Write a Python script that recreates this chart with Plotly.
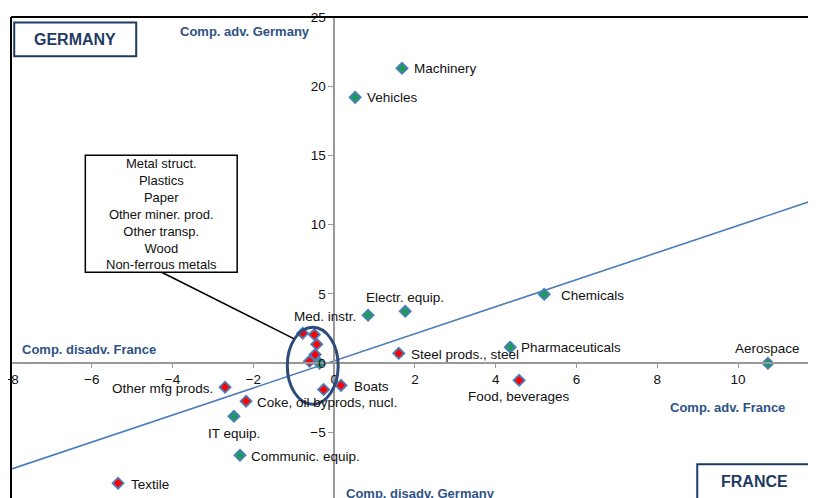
import plotly.graph_objects as go

# -- sector data: comparative advantage France (x) vs Germany (y)
sectors = ['Machinery', 'Vehicles', 'Electr. equip.', 'Med. instr.', 'Chemicals',
           'Pharmaceuticals', 'Aerospace', 'Steel prods., steel', 'Food, beverages',
           'Boats', 'Other mfg prods.', 'Coke, oil byprods, nucl.', 'IT equip.',
           'Communic. equip.', 'Textile',
           'Metal struct.', 'Plastics', 'Paper', 'Other miner. prod.', 'Wood',
           'Other transp.', 'Non-ferrous metals']
adv_france = [1.68, 0.52, 1.76, 0.84, 5.2, 4.36, 10.74, 1.6, 4.58, 0.17, -2.7, -2.18,
              -2.48, -2.33, -5.35, -0.78, -0.49, -0.43, -0.47, -0.61, -0.36, -0.26]
adv_germany = [21.3, 19.2, 3.75, 3.47, 4.98, 1.16, 0.0, 0.72, -1.23, -1.6, -1.73, -2.74,
               -3.83, -6.64, -8.66, 2.17, 2.07, 1.37, 0.63, 0.14, 0.0, -1.9]
kind = ['g', 'g', 'g', 'g', 'g', 'g', 'g', 'r', 'r', 'r', 'r', 'r', 'g', 'g', 'r',
        'r', 'r', 'r', 'r', 'r', 'g', 'r']
cluster = ['Metal struct.', 'Plastics', 'Paper', 'Other miner. prod.', 'Other transp.',
           'Wood', 'Non-ferrous metals']

# regression line
trend_x = [-8, 12]
trend_y = [-7.65, 11.9]

x_ticks = [-8, -6, -4, -2, 0, 2, 4, 6, 8, 10, 12]
y_ticks = [-10, -5, 0, 5, 10, 15, 20, 25]

# label offsets (px) and anchor, for the labelled points
lbl = {
    'Machinery': (10, 0, 'left'), 'Vehicles': (10, 0, 'left'),
    'Electr. equip.': (0, 14, 'center'), 'Med. instr.': (-10, -1, 'right'),
    'Chemicals': (15, -1, 'left'), 'Pharmaceuticals': (9, 0, 'left'),
    'Aerospace': (0, 15, 'center'), 'Steel prods., steel': (10, -1, 'left'),
    'Food, beverages': (0, -16, 'center'), 'Boats': (11, -1, 'left'),
    'Other mfg prods.': (-10, -1, 'right'), 'Coke, oil byprods, nucl.': (9, -1, 'left'),
    'IT equip.': (0, -17, 'center'), 'Communic. equip.': (9, -1, 'left'),
    'Textile': (11, -1, 'left'),
}

FONT = 'Liberation Sans, Arial, sans-serif'
NAVY = '#2f5286'
BLUE = '#4a7ebb'
x_range = [-8, 11.93]
y_range = [-9.73, 25]

fig = go.Figure()

fig.add_trace(go.Scatter(x=trend_x, y=trend_y, mode='lines',
                         line=dict(color=BLUE, width=1.6), hoverinfo='skip'))

fig.add_trace(go.Scatter(
    x=adv_france, y=adv_germany, mode='markers', text=sectors,
    marker=dict(symbol='diamond', size=8.5,
                color=['#1e9b58' if k == 'g' else '#ff0000' for k in kind],
                line=dict(color=BLUE, width=1.8))))

for name, xv, yv in zip(sectors, adv_france, adv_germany):
    if name not in lbl:
        continue
    dx, dy, anc = lbl[name]
    fig.add_annotation(x=xv, y=yv, text=name, showarrow=False, xanchor=anc,
                       xshift=dx, yshift=dy, font=dict(size=13.5, color='#111'))

# quadrant captions
quad = [('Comp. adv. Germany', -2.2, 23.97, 'center'),
        ('Comp. disadv. France', -7.77, 1.01, 'left'),
        ('Comp. adv. France', 9.75, -3.18, 'center'),
        ('Comp. disadv. Germany', 2.15, -9.39, 'center')]
for t, xv, yv, anc in quad:
    fig.add_annotation(x=xv, y=yv, text='<b>' + t + '</b>', showarrow=False,
                       xanchor=anc, font=dict(size=13, color=NAVY))

# country boxes
fig.add_shape(type='rect', x0=-7.92, x1=-4.9, y0=22.17, y1=24.6,
              line=dict(color='#1f3b63', width=2), fillcolor='white')
fig.add_annotation(x=-6.41, y=23.38, text='<b>GERMANY</b>', showarrow=False,
                   font=dict(size=16, color='#1f3b63'))
fig.add_shape(type='rect', x0=8.99, x1=12.5, y0=-11, y1=-7.29,
              line=dict(color='#1f3b63', width=2), fillcolor='white')
fig.add_annotation(x=10.4, y=-8.55, text='<b>FRANCE</b>', showarrow=False,
                   font=dict(size=16, color='#1f3b63'))

# cluster callout
fig.add_shape(type='circle', x0=-1.16, x1=0.1, y0=-2.96, y1=2.6,
              line=dict(color='#2e4a7a', width=3))
fig.add_shape(type='line', x0=-4.27, y0=6.57, x1=-1.0, y1=1.78,
              line=dict(color='black', width=1.5))
fig.add_shape(type='rect', x0=-6.16, x1=-2.4, y0=6.57, y1=15.02,
              line=dict(color='black', width=1.5), fillcolor='white')
fig.add_annotation(x=-4.28, y=10.8, text='<br>'.join(cluster), showarrow=False,
                   font=dict(size=13, color='#111'))

# outer frame (left and top only, rest is cut off)
fig.add_shape(type='line', xref='paper', yref='paper', x0=0, x1=0, y0=0, y1=1,
              line=dict(color='black', width=2))
fig.add_shape(type='line', xref='paper', yref='paper', x0=0, x1=1, y0=1, y1=1,
              line=dict(color='black', width=2))

fig.update_xaxes(range=x_range, tickvals=x_ticks, showgrid=False, zeroline=False,
                 showline=True, linecolor='#999', linewidth=1.5, ticks='outside',
                 ticklen=4, tickcolor='#999', anchor='free', automargin=False,
                 ticklabeloverflow='allow',
                 position=(0 - y_range[0]) / (y_range[1] - y_range[0]),
                 tickfont=dict(size=13.5, color='#111'))
fig.update_yaxes(range=y_range, tickvals=y_ticks, showgrid=False, zeroline=False,
                 showline=True, linecolor='#999', linewidth=1.5, ticks='outside',
                 ticklen=5, tickcolor='#999', anchor='free', automargin=False,
                 ticklabeloverflow='allow',
                 position=(0 - x_range[0]) / (x_range[1] - x_range[0]),
                 tickfont=dict(size=13.5, color='#111'))

# page body keeps its 8px margin, so the figure is 8px smaller than the window
fig.update_layout(width=808, height=490, showlegend=False, hovermode=False,
                  margin=dict(l=3, r=0, t=9, b=0),
                  plot_bgcolor='white', paper_bgcolor='white',
                  font=dict(family=FONT))

fig.write_html("out.html")
